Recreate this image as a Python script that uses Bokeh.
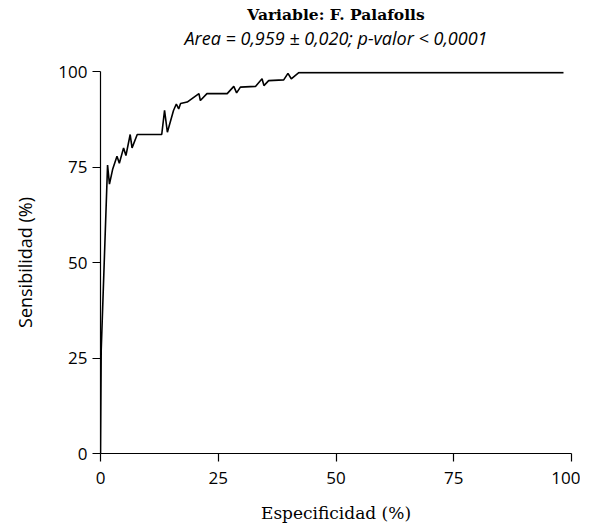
from bokeh.plotting import figure
from bokeh.models import Title, Range1d, FixedTicker, LinearAxis
from bokeh.embed import file_html
from bokeh.resources import INLINE

# ROC curve: 1 - specificity (%) vs sensitivity (%)
fpr = [0, 0.15, 1.5, 1.9, 2.6, 3.5, 4.0, 4.9, 5.4, 6.3, 6.7, 7.8, 13.0, 13.6, 14.2, 15.5,
       16.1, 16.6, 17.0, 18.4, 20.9, 21.2, 22.6, 26.9, 28.3, 28.9, 29.7, 32.9, 34.3, 34.7,
       35.7, 38.9, 39.8, 40.5, 42.1, 98.3]
tpr = [0, 27.0, 75.5, 70.5, 74.5, 77.8, 76.0, 80.0, 78.0, 83.5, 80.0, 83.5, 83.5, 89.8, 84.1, 89.8,
       91.5, 90.2, 91.6, 92.0, 94.2, 92.4, 94.2, 94.2, 96.1, 94.4, 95.9, 96.1, 98.1, 96.3,
       97.6, 97.8, 99.5, 98.1, 99.7, 99.7]
ticks = [0, 25, 50, 75, 100]

title_text = "Variable: F. Palafolls"
subtitle_text = "Area = 0,959 ± 0,020; p-valor < 0,0001"
x_label = "Especificidad (%)"
y_label = "Sensibilidad (%)"

p = figure(width=580, height=523, output_backend="svg", toolbar_location=None,
           x_range=Range1d(0, 100), y_range=Range1d(0, 100),
           frame_width=471, frame_height=382,
           min_border_left=100, min_border_right=9, min_border_top=71, min_border_bottom=70)
p.outline_line_color = None
p.xgrid.visible = False
p.ygrid.visible = False
p.background_fill_color = "white"
p.border_fill_color = "white"

p.line(fpr, tpr, line_color="black", line_width=1.6)

xax = p.xaxis[0]
yax = p.yaxis[0]
for ax in (xax, yax):
    ax.ticker = FixedTicker(ticks=ticks)
    ax.minor_tick_line_color = None
    ax.major_tick_in = 0
    ax.major_tick_out = 8
    ax.axis_line_color = "black"
    ax.major_tick_line_color = "black"
    ax.axis_line_width = 1.2
    ax.major_tick_line_width = 1.2
    ax.major_label_text_font = "Open Sans"
    ax.major_label_text_font_size = "17px"
    ax.major_label_text_color = "black"
    ax.axis_label_text_font_style = "normal"
    ax.axis_label_text_font_size = "17px"
    ax.axis_label_text_color = "black"

xax.axis_label = x_label
xax.axis_label_text_font = "DejaVu Serif"
xax.axis_label_standoff = 16
xax.major_label_standoff = 10
yax.axis_label = y_label
yax.axis_label_text_font = "Open Sans"
yax.axis_label_text_font_size = "18px"
yax.axis_label_standoff = 18
yax.major_label_standoff = 5

# subtitle drawn as the label of an invisible axis above the frame
sub_axis = LinearAxis(ticker=FixedTicker(ticks=[]), axis_line_color=None,
                      major_tick_line_color=None, minor_tick_line_color=None,
                      major_tick_out=0, major_tick_in=0, major_label_standoff=0,
                      axis_label=subtitle_text, axis_label_standoff=22,
                      axis_label_text_font="Open Sans", axis_label_text_font_style="italic",
                      axis_label_text_font_size="18px", axis_label_text_color="black")
p.add_layout(sub_axis, "above")

main = Title(text=title_text, align="center", text_font="DejaVu Serif",
             text_font_style="bold", text_font_size="15.5px", text_color="black", standoff=-2)
p.add_layout(main, "above")

open("out.html", "w").write(file_html(p, INLINE))
